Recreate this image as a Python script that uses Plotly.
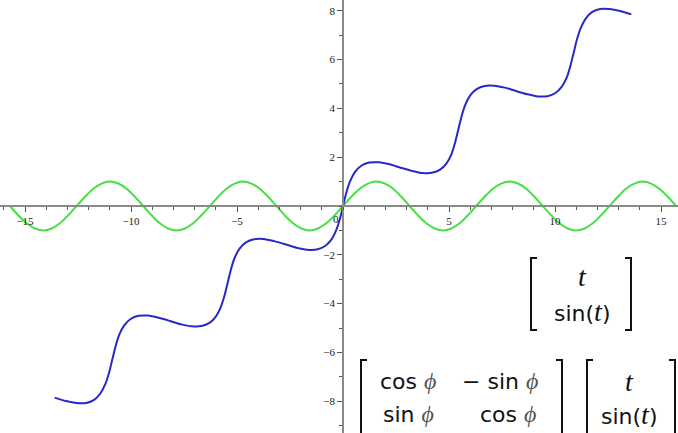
import plotly.graph_objects as go

# Green curve: (t, sin t)
green_x = [-15.71, -15.32, -14.92, -14.53, -14.14, -13.74, -13.35, -12.96, -12.57, -12.17,
           -11.78, -11.39, -11.00, -10.60, -10.21, -9.82, -9.42, -9.03, -8.64, -8.25,
           -7.85, -7.46, -7.07, -6.68, -6.28, -5.89, -5.50, -5.11, -4.71, -4.32,
           -3.93, -3.53, -3.14, -2.75, -2.36, -1.96, -1.57, -1.18, -0.79, -0.39,
           0.0,
           0.39, 0.79, 1.18, 1.57, 1.96, 2.36, 2.75, 3.14, 3.53, 3.93,
           4.32, 4.71, 5.11, 5.50, 5.89, 6.28, 6.68, 7.07, 7.46, 7.85,
           8.25, 8.64, 9.03, 9.42, 9.82, 10.21, 10.60, 11.00, 11.39, 11.78,
           12.17, 12.57, 12.96, 13.35, 13.74, 14.14, 14.53, 14.92, 15.32, 15.71]
green_y = [0, -0.38, -0.71, -0.92, -1, -0.92, -0.71, -0.38, 0, 0.38, 0.71, 0.92, 1, 0.92, 0.71, 0.38,
           0, -0.38, -0.71, -0.92, -1, -0.92, -0.71, -0.38, 0, 0.38, 0.71, 0.92, 1, 0.92, 0.71, 0.38,
           0, -0.38, -0.71, -0.92, -1, -0.92, -0.71, -0.38,
           0,
           0.38, 0.71, 0.92, 1, 0.92, 0.71, 0.38, 0, -0.38, -0.71, -0.92, -1, -0.92, -0.71, -0.38,
           0, 0.38, 0.71, 0.92, 1, 0.92, 0.71, 0.38, 0, -0.38, -0.71, -0.92, -1, -0.92, -0.71, -0.38,
           0, 0.38, 0.71, 0.92, 1, 0.92, 0.71, 0.38, 0]

# Blue curve: the rotated curve
blue_x = [-13.60, -13.07, -12.57, -12.12, -11.74, -11.44, -11.21, -11.03, -10.88, -10.73,
          -10.56, -10.32, -10.02, -9.64, -9.20, -8.69, -8.16, -7.63, -7.13, -6.68,
          -6.30, -6.00, -5.77, -5.59, -5.44, -5.29, -5.12, -4.88, -4.58, -4.20,
          -3.76, -3.25, -2.72, -2.19, -1.69, -1.24, -0.86, -0.56, -0.33, -0.15,
          0.0,
          0.15, 0.33, 0.56, 0.86, 1.24, 1.69, 2.19, 2.72, 3.25, 3.76,
          4.20, 4.58, 4.88, 5.12, 5.29, 5.44, 5.59, 5.77, 6.00, 6.30,
          6.68, 7.13, 7.63, 8.16, 8.69, 9.20, 9.64, 10.02, 10.32, 10.56,
          10.73, 10.88, 11.03, 11.21, 11.44, 11.74, 12.12, 12.57, 13.07, 13.60]
blue_y = [-7.85, -7.99, -8.07, -8.07, -7.94, -7.67, -7.29, -6.81, -6.28, -5.76,
          -5.28, -4.89, -4.63, -4.50, -4.49, -4.58, -4.71, -4.85, -4.93, -4.92,
          -4.79, -4.53, -4.15, -3.67, -3.14, -2.61, -2.14, -1.75, -1.49, -1.36,
          -1.35, -1.44, -1.57, -1.71, -1.79, -1.78, -1.65, -1.39, -1.01, -0.53,
          0.0,
          0.53, 1.01, 1.39, 1.65, 1.78, 1.79, 1.71, 1.57, 1.44, 1.35,
          1.36, 1.49, 1.75, 2.14, 2.61, 3.14, 3.67, 4.15, 4.53, 4.79,
          4.92, 4.93, 4.85, 4.71, 4.58, 4.49, 4.50, 4.63, 4.89, 5.28,
          5.76, 6.28, 6.81, 7.29, 7.67, 7.94, 8.07, 8.07, 7.99, 7.85]

x_tick_vals = [-15, -10, -5, 5, 10, 15]
x_tick_text = ["\u221215", "\u221210", "\u22125", "5", "10", "15"]
y_tick_vals = [-8, -6, -4, -2, 2, 4, 6, 8]
y_tick_text = ["\u22128", "\u22126", "\u22124", "\u22122", "2", "4", "6", "8"]

W, H = 678, 433
X_RANGE = [-16.18, 15.80]
Y_RANGE = [-9.30, 8.44]

fig = go.Figure()
fig.add_trace(go.Scatter(x=green_x, y=green_y, mode="lines",
                         line=dict(color="#44e044", width=2, shape="spline", smoothing=0.8),
                         hoverinfo="skip", showlegend=False))
fig.add_trace(go.Scatter(x=blue_x, y=blue_y, mode="lines",
                         line=dict(color="#2828c8", width=2, shape="spline", smoothing=0.8),
                         hoverinfo="skip", showlegend=False))

tickfont = dict(family="Liberation Serif", size=11, color="#222")
axis_common = dict(showline=True, linecolor="#8a8a8a", linewidth=1.5,
                   ticks="outside", ticklen=5, tickwidth=1, tickcolor="#555",
                   showgrid=False, zeroline=False, tickfont=tickfont,
                   anchor="free", fixedrange=True)

x_pos = (0 - Y_RANGE[0]) / (Y_RANGE[1] - Y_RANGE[0])
y_pos = (0 - X_RANGE[0]) / (X_RANGE[1] - X_RANGE[0])

fig.update_xaxes(range=X_RANGE, position=x_pos, tickmode="array",
                 tickvals=x_tick_vals, ticktext=x_tick_text,
                 minor=dict(tickmode="linear", tick0=0, dtick=1, ticks="outside",
                            ticklen=3, tickcolor="#555", tickwidth=1),
                 **axis_common)
fig.update_yaxes(range=Y_RANGE, position=y_pos, tickmode="array",
                 tickvals=y_tick_vals, ticktext=y_tick_text,
                 minor=dict(tickmode="linear", tick0=0, dtick=1, ticks="outside",
                            ticklen=3, tickcolor="#555", tickwidth=1),
                 **axis_common)


def px(x):
    return x / W


def py(y):
    return 1 - y / H


annotations = [dict(x=px(336), y=py(219), text="0", showarrow=False,
                    font=tickfont, xref="paper", yref="paper")]

T = '<span style="font-family:Liberation Serif;font-style:italic;font-size:28px">t</span>'
PHI = '<span style="font-family:Liberation Serif;font-style:italic;font-size:24px;fill:#555">\u03d5</span>'
mfont = dict(family="DejaVu Sans", size=22, color="#111")


def label(x, y, text, xanchor="center"):
    annotations.append(dict(x=px(x), y=py(y), text=text, showarrow=False,
                            xref="paper", yref="paper", font=mfont,
                            xanchor=xanchor, yanchor="middle"))


# Matrix 1
label(582, 276, T)
label(582, 311, "sin(" + T + ")")
# Matrix 2
label(408, 381, "cos " + PHI)
label(500, 381, "\u2212 sin " + PHI)
label(408, 414, "sin " + PHI)
label(508, 414, "cos " + PHI)
label(629, 381, T)
label(629, 414, "sin(" + T + ")")

shapes = []


def bracket(x, top, bottom, side):
    d = 6 if side == "left" else -6
    path = (f"M {px(x + d)},{py(top)} L {px(x)},{py(top)} "
            f"L {px(x)},{py(bottom)} L {px(x + d)},{py(bottom)}")
    shapes.append(dict(type="path", path=path, xref="paper", yref="paper",
                       line=dict(color="#111", width=2)))


bracket(531, 258, 330, "left")
bracket(631, 258, 330, "right")
bracket(361, 360, 440, "left")
bracket(562, 360, 440, "right")
bracket(587, 360, 440, "left")
bracket(675, 360, 440, "right")

fig.update_layout(width=W, height=H, margin=dict(l=0, r=0, t=0, b=0),
                  plot_bgcolor="white", paper_bgcolor="white",
                  annotations=annotations, shapes=shapes, showlegend=False)

fig.write_html("out.html", config={"displayModeBar": False},
               post_script="document.body.style.margin='0';document.body.style.overflow='hidden';")
